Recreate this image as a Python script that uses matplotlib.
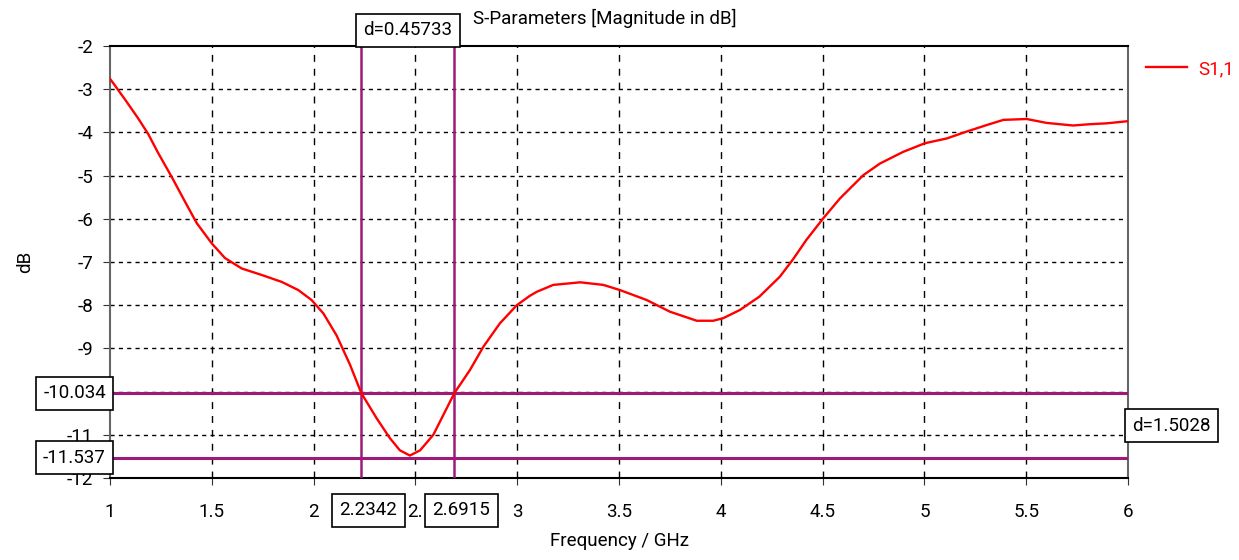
import matplotlib
matplotlib.use("Agg")
import matplotlib.pyplot as plt
import matplotlib.transforms as mtransforms

plt.rcParams['font.family'] = ['Roboto', 'DejaVu Sans']

freq = [1.00, 1.016, 1.074, 1.139, 1.188, 1.237, 1.303, 1.368, 1.426, 1.50, 1.565,
        1.647, 1.745, 1.843, 1.925, 1.99, 2.048, 2.113, 2.179, 2.2342, 2.31, 2.375,
        2.424, 2.473, 2.523, 2.588, 2.6915, 2.768, 2.834, 2.915, 2.998, 3.063, 3.096,
        3.177, 3.31, 3.423, 3.505, 3.636, 3.75, 3.882, 3.963, 4.012, 4.094, 4.19,
        4.29, 4.356, 4.42, 4.503, 4.585, 4.70, 4.782, 4.896, 5.003, 5.11, 5.208,
        5.306, 5.388, 5.502, 5.60, 5.73, 5.813, 5.895, 6.00]
s11 = [-2.76, -2.86, -3.24, -3.68, -4.04, -4.48, -5.03, -5.60, -6.10, -6.57, -6.91,
       -7.15, -7.30, -7.46, -7.65, -7.88, -8.19, -8.70, -9.38, -10.034, -10.62, -11.08,
       -11.36, -11.48, -11.36, -11.00, -10.034, -9.50, -8.96, -8.42, -8.00, -7.78, -7.69,
       -7.53, -7.47, -7.53, -7.65, -7.88, -8.15, -8.36, -8.36, -8.30, -8.11, -7.80,
       -7.34, -6.93, -6.49, -5.99, -5.53, -4.99, -4.72, -4.45, -4.25, -4.14, -3.98,
       -3.83, -3.71, -3.69, -3.78, -3.84, -3.81, -3.79, -3.74]

xticks = [1, 1.5, 2, 2.5, 3, 3.5, 4, 4.5, 5, 5.5, 6]
xtick_labels = ['1', '1.5', '2', '2.', '3', '3.5', '4', '4.5', '5', '5.5', '6']
yticks = [-2, -3, -4, -5, -6, -7, -8, -9, -10, -11, -12]
ytick_labels = ['-2', '-3', '-4', '-5', '-6', '-7', '-8', '-9', '', '-11', '-12']

marker_x = [2.2342, 2.6915]
marker_y = [-10.034, -11.537]
marker_x_labels = ['2.2342', '2.6915']
marker_y_labels = ['-10.034', '-11.537']
dx_label = 'd=0.45733'
dy_label = 'd=1.5028'

mcol = '#9E1A78'
fs = 13.5

fig = plt.figure(figsize=(12.39, 5.60), dpi=100)
ax = fig.add_axes([110/1239, 1-478/560, (1128-110)/1239, (478-46)/560])

ax.plot(freq, s11, color='#FF0000', lw=1.7, label='S1,1', zorder=4)

ax.set_xlim(1, 6)
ax.set_ylim(-12, -2)
ax.set_xticks(xticks)
ax.set_xticklabels(xtick_labels, fontsize=fs)
ax.set_yticks(yticks)
ax.set_yticklabels(ytick_labels, fontsize=fs)
ax.tick_params(axis='x', direction='out', length=5, pad=13, color='#333333')
ax.tick_params(axis='y', direction='out', length=5, pad=7, color='#333333')

for xv in xticks[1:-1]:
    ax.axvline(xv, color='black', lw=1.0, ls=(0, (5, 5)), zorder=1)
for yv in yticks[1:-1]:
    ax.axhline(yv, color='black', lw=1.0, ls=(0, (3, 3)), zorder=1)

ax.spines['left'].set_color('#666666')
ax.spines['right'].set_color('#666666')
ax.spines['top'].set_color('black')
ax.spines['bottom'].set_color('black')
for s in ax.spines.values():
    s.set_linewidth(1.5)

for xv in marker_x:
    ax.axvline(xv, color=mcol, lw=1.8, zorder=3)
for yv in marker_y:
    ax.axhline(yv, color=mcol, lw=2.2, zorder=3)

box = dict(boxstyle='square,pad=0.4', fc='white', ec='black', lw=1.2)

ytr = ax.get_yaxis_transform()
for yv, lab in zip(marker_y, marker_y_labels):
    ax.text(-0.004, yv, lab, transform=ytr, ha='right', va='center',
            fontsize=fs, bbox=box, zorder=6, clip_on=False)

ax.text(1.004, sum(marker_y) / 2, dy_label, transform=ytr, ha='left', va='center',
        fontsize=fs, bbox=box, zorder=6, clip_on=False)

xtr = ax.get_xaxis_transform()
dx_off = mtransforms.offset_copy(xtr, fig=fig, x=0, y=7, units='dots')
ax.text(sum(marker_x) / 2, 1.0, dx_label, transform=dx_off, ha='center', va='bottom',
        fontsize=fs, bbox=box, zorder=6, clip_on=False)

offs = mtransforms.offset_copy(xtr, fig=fig, x=7, y=-32, units='dots')
for xv, lab in zip(marker_x, marker_x_labels):
    ax.text(xv, 0, lab, transform=offs, ha='center', va='center',
            fontsize=fs, bbox=box, zorder=6, clip_on=False)

ax.set_xlabel('Frequency / GHz', fontsize=fs, labelpad=8)
ax.set_ylabel('dB', fontsize=fs, labelpad=24)
fig.text(605/1239, 1-18/560, 'S-Parameters [Magnitude in dB]', ha='center', va='center', fontsize=fs)

ax.legend(loc='center left', bbox_to_anchor=(1146/1239, 1-69/560), bbox_transform=fig.transFigure,
          frameon=False, fontsize=fs, labelcolor='#FF0000', handlelength=2.2, handletextpad=0.6,
          borderpad=0, borderaxespad=0)

fig.savefig('out.png', dpi=100)
